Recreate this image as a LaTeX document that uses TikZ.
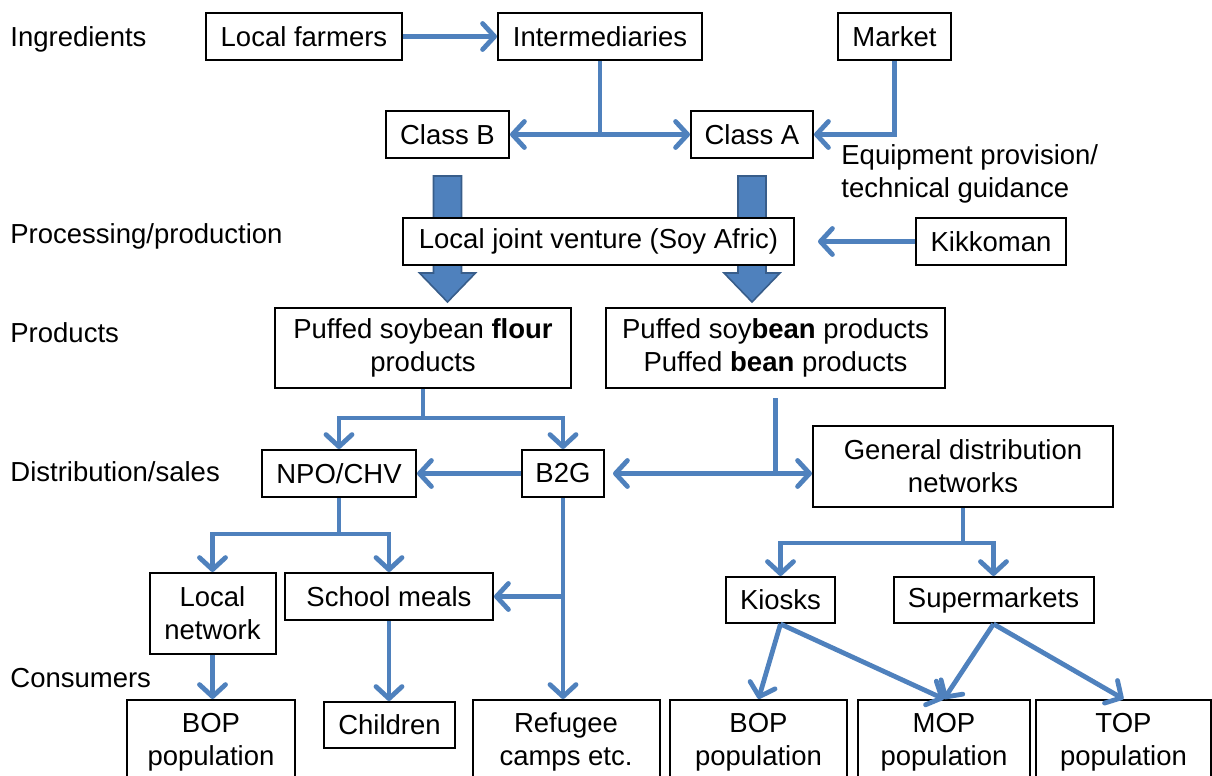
\documentclass[tikz,border=0pt]{standalone}
\usepackage{fontspec}
\setmainfont{Liberation Sans}
\usetikzlibrary{arrows.meta}
\definecolor{flowblue}{HTML}{4F81BD}
\definecolor{edgeblue}{HTML}{385D8A}
\tikzset{
  box/.style = {draw, line width = 1pt, fill = white, inner sep = 0pt, align = center},
  flow/.style = {draw = flowblue, line width = 2.4pt, -{Straight Barb[length = 6pt, width = 13pt, round]}},
  link/.style = {draw = flowblue, line width = 2.4pt},
  bigarrow/.style = {fill = flowblue, draw = edgeblue, line width = 0.8pt},
  stage/.style = {anchor = west, inner sep = 0pt}
}
\begin{document}
\begin{tikzpicture}[x = 0.5pt, y = -0.5pt, font = \fontsize{13.75}{16.5}\selectfont]
                \useasboundingbox (0, 0) rectangle (1212, 776);
                \clip (0, 0) rectangle (1212, 776);
                % stages on the left
                \node[stage] (ingr) at (10, 39) {Ingredients};
                \node[stage] (proc) at (10, 236) {Processing/production};
                \node[stage] (prod) at (10, 333) {Products};
                \node[stage] (dist) at (10, 472) {Distribution/sales};
                \node[stage] (cons) at (10, 678) {Consumers};
                % ingredients
                \node[box, minimum width = 98pt, minimum height = 23.5pt] (farmers) at (304, 36.5) {Local farmers};
                \node[box, minimum width = 102pt, minimum height = 23.5pt] (inter) at (600, 36.5) {Intermediaries};
                \node[box, minimum width = 56.5pt, minimum height = 23.5pt] (market) at (894.5, 36.5) {Market};
                \node[box, minimum width = 61.5pt, minimum height = 23.5pt] (classB) at (447.5, 134.5) {Class B};
                \node[box, minimum width = 61pt, minimum height = 23.5pt] (classA) at (752, 134.5) {Class A};
                \node[anchor = west, inner sep = 0pt, align = left] (equip) at (841, 174) {Equipment provision/\\technical guidance};
                % big arrows go behind the joint venture box
                \foreach \n in {classB, classA}
                    \draw[bigarrow] ([yshift = -8.5pt]\n.south) ++(-14, 0) -- ++(28, 0) -- ++(0, 97)
                        -- ++(14, 0) -- ++(-28, 29) -- ++(-28, -29) -- ++(14, 0) -- cycle;
                % processing
                \node[box, minimum width = 195.5pt, minimum height = 23.5pt] (jv) at (598.5, 241.5) {Local joint venture (Soy Afric)};
                \node[box, minimum width = 75pt, minimum height = 23.5pt] (kikko) at (991, 241.5) {Kikkoman};
                % products
                \node[box, minimum width = 148pt, minimum height = 40pt] (flour) at (423, 348) {Puffed soybean \textbf{flour}\\products};
                \node[box, minimum width = 169.5pt, minimum height = 40pt] (bean) at (775.5, 348) {Puffed soy\textbf{bean} products\\Puffed \textbf{bean} products};
                % distribution
                \node[box, minimum width = 77pt, minimum height = 23.5pt] (npo) at (339, 473.5) {NPO/CHV};
                \node[box, minimum width = 41pt, minimum height = 23.5pt] (b2g) at (563, 473.5) {B2G};
                \node[box, minimum width = 150pt, minimum height = 40.5pt] (gdn) at (963, 466.5) {General distribution\\networks};
                \node[box, minimum width = 63pt, minimum height = 40.5pt] (localnet) at (212.5, 613.5) {Local\\network};
                \node[box, minimum width = 104pt, minimum height = 23.5pt] (school) at (389, 596.5) {School meals};
                \node[box, minimum width = 54.5pt, minimum height = 23pt] (kiosk) at (780.5, 600) {Kiosks};
                \node[box, minimum width = 100pt, minimum height = 23pt] (super) at (993.5, 600) {Supermarkets};
                % consumers
                \node[box, minimum width = 84pt, minimum height = 42pt] (bop1) at (211, 742) {BOP\\population};
                \node[box, minimum width = 65.5pt, minimum height = 23pt] (children) at (389.5, 725) {Children};
                \node[box, minimum width = 93.5pt, minimum height = 42pt] (refugee) at (566, 742) {Refugee\\camps etc.};
                \node[box, minimum width = 88.5pt, minimum height = 42pt] (bop2) at (758.5, 742) {BOP\\population};
                \node[box, minimum width = 86pt, minimum height = 42pt] (mop) at (944, 742) {MOP\\population};
                \node[box, minimum width = 87.5pt, minimum height = 42pt] (top) at (1123.5, 742) {TOP\\population};
                % connectors
                \draw[flow] (farmers) -- (inter);
                \coordinate (j1) at (inter.south |- classA);
                \draw[link] (inter) -- (j1);
                \draw[flow] (j1) -- (classB);
                \draw[flow] (j1) -- (classA);
                \draw[flow] (market.south) |- (classA.east);
                \draw[flow, shorten > = 11.5pt] (kikko) -- (jv);
                \coordinate (j2) at ([yshift = -14.5pt]flour.south);
                \draw[link] (flour) -- (j2);
                \draw[flow] (j2) -| (npo);
                \draw[flow] (j2) -| (b2g);
                \draw[flow] (b2g) -- (npo);
                \coordinate (b0) at ([yshift = -4.5pt]bean.south);
                \coordinate (j3) at (b0 |- b2g);
                \draw[link] (b0) -- (j3);
                \draw[flow, shorten > = 4pt] (j3) -- (b2g);
                \draw[flow] (j3) -- (j3 -| gdn.west);
                \coordinate (j4) at ([yshift = -18pt]npo.south);
                \draw[link] (npo) -- (j4);
                \draw[flow] (j4) -| (localnet);
                \draw[flow] (j4) -| (school);
                \draw[flow] (b2g) -- (b2g.south |- refugee.north);
                \draw[flow] (b2g.south |- school) -- (school);
                \draw[flow] (localnet) -- (localnet |- bop1.north);
                \draw[flow] (school) -- (school |- children.north);
                \coordinate (j5) at ([yshift = -17.5pt]gdn.south);
                \draw[link] (gdn) -- (j5);
                \draw[flow] (j5) -| (kiosk);
                \draw[flow] (j5) -| (super);
                \draw[flow] (kiosk.south) -- (bop2.north);
                \draw[flow] (kiosk.south) -- (mop.north);
                \draw[flow] (super.south) -- (mop.north);
                \draw[flow] (super.south) -- (top.north);
            \end{tikzpicture}
\end{document}
